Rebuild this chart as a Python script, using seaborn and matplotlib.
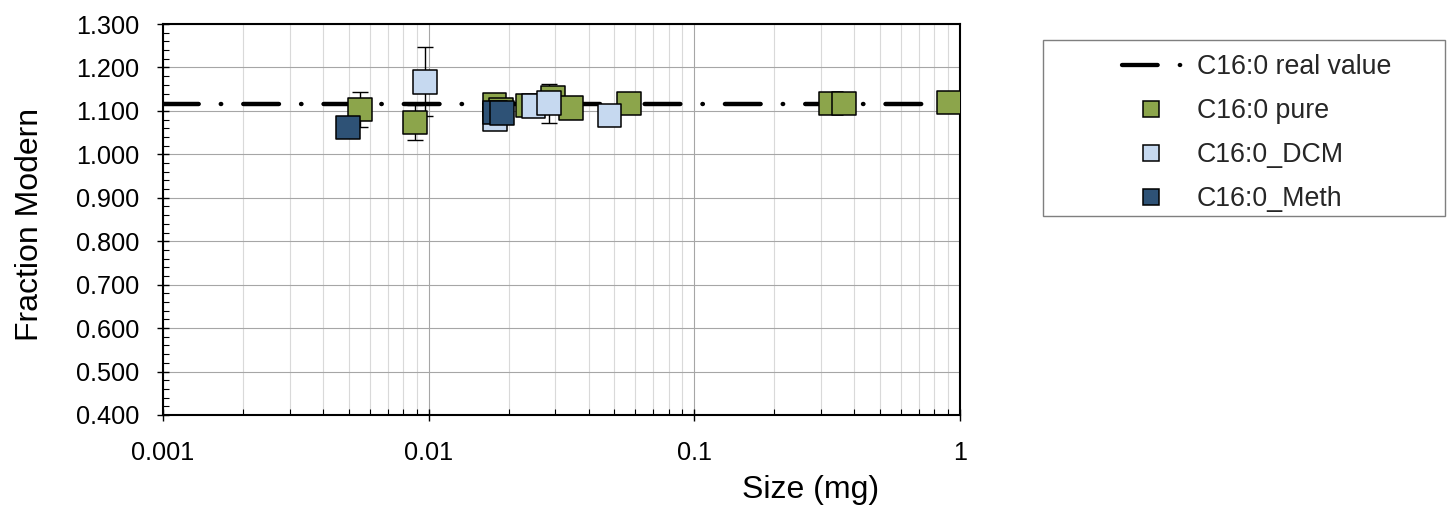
import matplotlib
matplotlib.use("Agg")
import matplotlib.pyplot as plt
import numpy as np
import pandas as pd
import seaborn as sns
from matplotlib.lines import Line2D
from matplotlib.patches import Rectangle
from matplotlib.ticker import FixedLocator, FixedFormatter, MultipleLocator, FormatStrFormatter, NullFormatter

# ---- data -------------------------------------------------------------
real_value = 1.115

pure_size = [0.00551, 0.00888, 0.0177, 0.0187, 0.0237, 0.0293, 0.0344, 0.0569, 0.327, 0.3665, 0.909]
pure_fm = [1.103, 1.073, 1.115, 1.102, 1.112, 1.129, 1.107, 1.117, 1.117, 1.117, 1.119]
pure_err = [0.040, 0.040, 0.015, 0.015, 0.015, 0.015, 0.015, 0.015, 0.010, 0.010, 0.010]

dcm_size = [0.00968, 0.0178, 0.0248, 0.0284, 0.0479]
dcm_fm = [1.167, 1.081, 1.111, 1.118, 1.089]
dcm_err = [0.079, 0.015, 0.015, 0.045, 0.015]

meth_size = [0.00497, 0.0178, 0.0189]
meth_fm = [1.062, 1.096, 1.095]
meth_err = [0.015, 0.015, 0.015]

series_names = ["C16:0 pure", "C16:0_DCM", "C16:0_Meth"]
line_name = "C16:0 real value"
series_colors = ["#8CA54B", "#C6D9F0", "#2E5276"]

x_ticks = [0.001, 0.01, 0.1, 1]
x_tick_labels = ["0.001", "0.01", "0.1", "1"]

# ---- style --------------------------------------------------------------
sns.set_style("white")
plt.rcParams["font.family"] = ["Liberation Sans", "DejaVu Sans"]
plt.rcParams["lines.scale_dashes"] = False

W, H = 1447, 512
fig = plt.figure(figsize=(W / 100, H / 100), dpi=100)
ax = fig.add_axes([163 / W, 1 - 415 / H, (960 - 163) / W, (415 - 24) / H])
ax.set_xscale("log")

df = pd.concat([
    pd.DataFrame({"size": pure_size, "fm": pure_fm, "err": pure_err, "series": series_names[0]}),
    pd.DataFrame({"size": dcm_size, "fm": dcm_fm, "err": dcm_err, "series": series_names[1]}),
    pd.DataFrame({"size": meth_size, "fm": meth_fm, "err": meth_err, "series": series_names[2]}),
], ignore_index=True)

dash_dot = (0, (25.7, 15.9, 0.3, 15.9))

# error bars first, then the reference line, then the markers on top
ax.errorbar(df["size"], df["fm"], yerr=df["err"], fmt="none", ecolor="black",
            elinewidth=1.0, capsize=5.8, capthick=1.0, zorder=2)

ax.plot([0.001, 1], [real_value, real_value], color="black", lw=3.2,
        linestyle=dash_dot, dash_capstyle="round", zorder=3)

sns.scatterplot(data=df, x="size", y="fm", hue="series", hue_order=series_names,
                palette=series_colors, marker="s", s=17 ** 2, edgecolor="black",
                linewidth=1.1, legend=False, zorder=4, ax=ax)

# ---- axes ---------------------------------------------------------------
ax.set_xlim(0.001, 1)
ax.set_ylim(0.4, 1.3)

ax.xaxis.set_major_locator(FixedLocator(x_ticks))
ax.xaxis.set_major_formatter(FixedFormatter(x_tick_labels))
ax.xaxis.set_minor_locator(FixedLocator(
    [m * d for d in (0.001, 0.01, 0.1) for m in range(2, 10)]))
ax.xaxis.set_minor_formatter(NullFormatter())
ax.yaxis.set_major_locator(MultipleLocator(0.1))
ax.yaxis.set_major_formatter(FormatStrFormatter("%.3f"))
ax.yaxis.set_minor_locator(MultipleLocator(0.02))

ax.grid(which="major", axis="both", color="#A6A6A6", lw=0.8)
ax.grid(which="minor", axis="x", color="#D9D9D9", lw=0.8)
ax.set_axisbelow(True)

for sp in ax.spines.values():
    sp.set_color("black")
    sp.set_linewidth(1.5)

ax.tick_params(which="major", direction="inout", length=8, width=1.0,
               color="black", labelsize=18.2, labelcolor="black")
ax.tick_params(axis="y", which="major", pad=13)
ax.tick_params(axis="x", which="major", pad=14.5)
ax.tick_params(which="minor", direction="in", length=4, width=0.8, color="black",
               left=True, bottom=True)
ax.tick_params(left=True, bottom=True)

ax.set_xlabel("Size (mg)", fontsize=23, color="black")
ax.set_ylabel("Fraction Modern", fontsize=23, color="black")
ax.xaxis.set_label_coords((811 - 163) / 797, -0.153)
ax.yaxis.set_label_coords(-0.148, 0.4885)

# ---- legend -------------------------------------------------------------
handles = [Line2D([], [], color="black", lw=3.1, linestyle=dash_dot,
                  dash_capstyle="round")]
for c in series_colors:
    handles.append(Line2D([], [], ls="none", marker="s", markersize=12,
                          markerfacecolor=c, markeredgecolor="black",
                          markeredgewidth=1.1))
labels = [line_name] + series_names

fig.add_artist(Rectangle((1043 / W, 1 - 216 / H), (1445 - 1043) / W, (216 - 40) / H,
                         transform=fig.transFigure, fill=False,
                         edgecolor="#7F7F7F", lw=1.0))
fig.legend(handles, labels, loc="upper left", bbox_to_anchor=(1122 / W, 1 - 54 / H),
           frameon=False, fontsize=19.3, handlelength=2.2, handletextpad=0.6,
           labelspacing=0.675, borderpad=0, borderaxespad=0)

fig.savefig("out.png", dpi=100)
